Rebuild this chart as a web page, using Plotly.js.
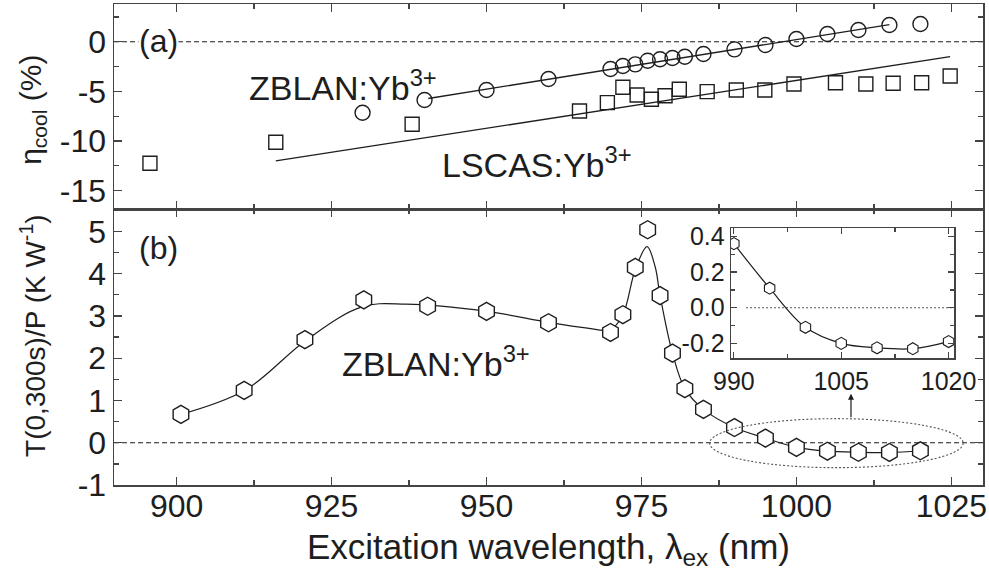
<!DOCTYPE html>
<html>
<head>
<meta charset="utf-8">
<script src="https://cdn.plot.ly/plotly-3.0.1.min.js"></script>
<style>
  html, body { margin: 0; padding: 0; background: #fff; }
  #chart { width: 989px; height: 581px; }
</style>
</head>
<body>
<div id="chart"></div>
<script>
// (a) cooling efficiency, ZBLAN:Yb3+ (circles)
const zblanWl  = [930, 940, 950, 960, 970, 972, 974, 976, 978, 980, 982, 985, 990, 995, 1000, 1005, 1010, 1015, 1020];
const zblanEta = [-7.15, -5.87, -4.86, -3.76, -2.75, -2.45, -2.28, -1.91, -1.77, -1.64, -1.51, -1.24, -0.77, -0.33, 0.27, 0.78, 1.18, 1.68, 1.78];
// linear fit for ZBLAN:Yb3+
const zblanFitWl  = [940.6, 1015];
const zblanFitEta = [-5.72, 1.72];

// (a) cooling efficiency, LSCAS:Yb3+ (squares)
const lscasWl  = [895.7, 916, 938, 965, 969.5, 972, 974.3, 976.6, 978.8, 981.1, 985.6, 990.3, 994.9, 999.6, 1006.3, 1011.2, 1015.6, 1020.2, 1024.8];
const lscasEta = [-12.25, -10.13, -8.32, -6.98, -6.14, -4.59, -5.37, -5.80, -5.44, -4.79, -5.03, -4.86, -4.86, -4.26, -4.13, -4.26, -4.19, -4.13, -3.45];
// linear fit for LSCAS:Yb3+
const lscasFitWl  = [916, 1024.8];
const lscasFitEta = [-12.0, -1.51];

// (b) normalised temperature change T(0,300s)/P
const tpWl = [900.7, 910.9, 920.7, 930.2, 940.5, 950, 960, 970, 972, 974, 976, 978, 980, 982, 985, 990, 995, 1000, 1005, 1010, 1015, 1020];
const tpVal = [0.67, 1.24, 2.44, 3.38, 3.23, 3.11, 2.84, 2.61, 3.03, 4.15, 5.04, 3.48, 2.12, 1.28, 0.79, 0.36, 0.11, -0.11, -0.20, -0.225, -0.23, -0.19];
// guide curve drawn through (b)
const tpCurveWl  = [900.7, 911, 921, 930, 937, 950, 960, 966, 970, 972, 974, 975.9, 977.2, 978, 980, 982, 985, 990, 995, 1000, 1005, 1010, 1015, 1020];
const tpCurveVal = [0.67, 1.24, 2.44, 3.22, 3.28, 3.11, 2.85, 2.72, 2.68, 3.03, 4.10, 4.64, 4.17, 3.48, 2.12, 1.28, 0.79, 0.36, 0.11, -0.11, -0.20, -0.225, -0.23, -0.19];

// inset: the long-wavelength tail of (b)
const insetStart = 15;
const insetWl  = tpWl.slice(insetStart);
const insetVal = tpVal.slice(insetStart);

// tick labels
const wlTicks   = [900, 925, 950, 975, 1000, 1025];
const wlLabels  = ['900', '925', '950', '975', '1000', '1025'];
const etaTicks  = [-15, -10, -5, 0];
const etaLabels = ['-15', '-10', '-5', '0'];
const tpTicks   = [-1, 0, 1, 2, 3, 4, 5];
const tpLabels  = ['-1', '0', '1', '2', '3', '4', '5'];
const insWlTicks  = [990, 1005, 1020];
const insWlLabels = ['990', '1005', '1020'];
const insTicks  = [-0.2, 0, 0.2, 0.4];
const insLabels = ['-0.2', '0.0', '0.2', '0.4'];

const FONT = '"Liberation Sans", Arial, sans-serif';
const INK = '#1e1e1e';
const FRAME = '#444';
const WL_RANGE = [889.9, 1030.1];

const traces = [
  { x: zblanFitWl, y: zblanFitEta, xaxis: 'x', yaxis: 'y', mode: 'lines',
    line: { color: INK, width: 1.3 }, hoverinfo: 'skip' },
  { x: lscasFitWl, y: lscasFitEta, xaxis: 'x', yaxis: 'y', mode: 'lines',
    line: { color: INK, width: 1.3 }, hoverinfo: 'skip' },
  { x: zblanWl, y: zblanEta, xaxis: 'x', yaxis: 'y', mode: 'markers', name: 'ZBLAN:Yb3+',
    marker: { symbol: 'circle-open', size: 15, color: INK, line: { width: 1.4 } } },
  { x: lscasWl, y: lscasEta, xaxis: 'x', yaxis: 'y', mode: 'markers', name: 'LSCAS:Yb3+',
    marker: { symbol: 'square-open', size: 14, color: INK, line: { width: 1.4 } } },

  { x: tpCurveWl, y: tpCurveVal, xaxis: 'x2', yaxis: 'y2', mode: 'lines',
    line: { color: INK, width: 1.2, shape: 'spline', smoothing: 1 }, hoverinfo: 'skip' },
  { x: tpWl, y: tpVal, xaxis: 'x2', yaxis: 'y2', mode: 'markers', name: 'ZBLAN:Yb3+',
    marker: { symbol: 'hexagon', size: 18, color: '#fff', line: { color: INK, width: 1.4 } } },
  // carrier for the wavelength label axis (draws nothing)
  { x: tpWl, y: tpVal, xaxis: 'x4', yaxis: 'y2', mode: 'lines', opacity: 0,
    line: { width: 0 }, hoverinfo: 'skip' },

  { x: insetWl, y: insetVal, xaxis: 'x3', yaxis: 'y3', mode: 'lines+markers',
    line: { color: INK, width: 1.2, shape: 'spline', smoothing: 1 },
    marker: { symbol: 'hexagon', size: 12, color: '#fff', line: { color: INK, width: 1.1 } } }
];

function frameAxis(extra) {
  return Object.assign({
    showline: true, linecolor: FRAME, linewidth: 1.5, mirror: 'ticks',
    ticks: 'inside', ticklen: 8, tickwidth: 1.3, tickcolor: FRAME,
    showgrid: false, zeroline: false, tickmode: 'array',
    tickfont: { family: FONT, size: 32, color: INK }
  }, extra);
}

const layout = {
  width: 989, height: 581,
  margin: { l: 114, r: 6, t: 4, b: 96 },
  paper_bgcolor: '#fff', plot_bgcolor: '#fff',
  showlegend: false,
  font: { family: FONT, color: INK },
  xaxis: frameAxis({ domain: [0, 1], anchor: 'y', range: WL_RANGE,
    tickvals: wlTicks, ticktext: wlLabels, showticklabels: false,
    minor: { dtick: 12.5, tick0: 900, ticks: 'inside', ticklen: 5, tickcolor: FRAME } }),
  yaxis: frameAxis({ domain: [0.5728, 1], anchor: 'x', range: [-16.9, 3.8],
    tickvals: etaTicks, ticktext: etaLabels,
    minor: { dtick: 2.5, tick0: 0, ticks: 'inside', ticklen: 5, tickcolor: FRAME } }),
  xaxis2: frameAxis({ domain: [0, 1], anchor: 'y2', range: WL_RANGE,
    tickvals: wlTicks, ticktext: wlLabels, showticklabels: false,
    minor: { dtick: 12.5, tick0: 900, ticks: 'inside', ticklen: 5, tickcolor: FRAME } }),
  // wavelength labels and title, set a little closer to the frame
  xaxis4: { overlaying: 'x2', anchor: 'free', position: 0.002, side: 'bottom',
    range: WL_RANGE, tickmode: 'array', tickvals: wlTicks, ticktext: wlLabels,
    showline: false, ticks: '', showgrid: false, zeroline: false,
    tickfont: { family: FONT, size: 32, color: INK },
    title: { text: 'Excitation wavelength, λ<sub>ex</sub> (nm)', standoff: 11,
             font: { family: FONT, size: 35, color: INK } } },
  yaxis2: frameAxis({ domain: [0, 0.5728], anchor: 'x2', range: [-1.0, 5.52],
    tickvals: tpTicks, ticktext: tpLabels,
    minor: { dtick: 0.5, tick0: 0, ticks: 'inside', ticklen: 5, tickcolor: FRAME } }),
  xaxis3: frameAxis({ domain: [0.710, 0.967], anchor: 'y3', range: [989.6, 1020.8],
    tickvals: insWlTicks, ticktext: insWlLabels, ticklen: 6, linewidth: 1.3,
    tickfont: { family: FONT, size: 25, color: INK },
    minor: { dtick: 7.5, tick0: 990, ticks: 'inside', ticklen: 4, tickcolor: FRAME } }),
  yaxis3: frameAxis({ domain: [0.263, 0.534], anchor: 'x3', range: [-0.285, 0.447],
    tickvals: insTicks, ticktext: insLabels, ticklen: 6, linewidth: 1.3,
    tickfont: { family: FONT, size: 25, color: INK },
    minor: { dtick: 0.1, tick0: 0, ticks: 'inside', ticklen: 4, tickcolor: FRAME } }),
  shapes: [
    { type: 'line', xref: 'x domain', yref: 'y', x0: 0, x1: 1, y0: 0, y1: 0,
      line: { color: INK, width: 1.1, dash: '5px,3px' }, layer: 'below' },
    { type: 'line', xref: 'x2 domain', yref: 'y2', x0: 0, x1: 1, y0: 0, y1: 0,
      line: { color: INK, width: 1.1, dash: '5px,3px' }, layer: 'below' },
    { type: 'line', xref: 'x3', yref: 'y3', x0: 991.7, x1: 1020.8, y0: 0, y1: 0,
      line: { color: '#555', width: 1, dash: '2px,2px' }, layer: 'below' },
    { type: 'circle', xref: 'x2', yref: 'y2', x0: 986.0, x1: 1026.9, y0: -0.59, y1: 0.57,
      line: { color: '#555', width: 1.1, dash: '2px,2px' } }
  ],
  annotations: [
    { xref: 'x', yref: 'y', x: 897.0, y: 0.07, text: '(a)', showarrow: false,
      bgcolor: '#fff', borderpad: 0, font: { family: FONT, size: 32, color: INK } },
    { xref: 'x2', yref: 'y2', x: 897.0, y: 4.61, text: '(b)', showarrow: false,
      font: { family: FONT, size: 32, color: INK } },
    { xref: 'x', yref: 'y', x: 911.3, y: -4.41, xanchor: 'left', yanchor: 'middle',
      text: 'ZBLAN:Yb<sup>3+</sup>', showarrow: false, font: { family: FONT, size: 34, color: INK } },
    { xref: 'x', yref: 'y', x: 942.5, y: -12.17, xanchor: 'left', yanchor: 'middle',
      text: 'LSCAS:Yb<sup>3+</sup>', showarrow: false, font: { family: FONT, size: 34, color: INK } },
    { xref: 'x2', yref: 'y2', x: 926.3, y: 1.93, xanchor: 'left', yanchor: 'middle',
      text: 'ZBLAN:Yb<sup>3+</sup>', showarrow: false, font: { family: FONT, size: 34, color: INK } },
    { xref: 'paper', yref: 'paper', x: -0.0932, y: 0.78, xanchor: 'center', yanchor: 'middle',
      textangle: -90, text: 'η<sub>cool</sub> (%)', showarrow: false,
      font: { family: FONT, size: 30, color: INK } },
    { xref: 'paper', yref: 'paper', x: -0.0932, y: 0.31, xanchor: 'center', yanchor: 'middle',
      textangle: -90, text: 'T(0,300s)/P (K W<sup>-1</sup>)', showarrow: false,
      font: { family: FONT, size: 28, color: INK } },
    // arrow from the circled tail up to the inset
    { xref: 'x2', yref: 'y2', axref: 'x2', ayref: 'y2', x: 1008.8, y: 1.16, ax: 1008.8, ay: 0.57,
      text: '', showarrow: true, arrowhead: 2, arrowsize: 1, arrowwidth: 1.2, arrowcolor: INK,
      standoff: 0, startstandoff: 0 }
  ]
};

Plotly.newPlot('chart', traces, layout, { staticPlot: true, displayModeBar: false });
</script>
</body>
</html>
